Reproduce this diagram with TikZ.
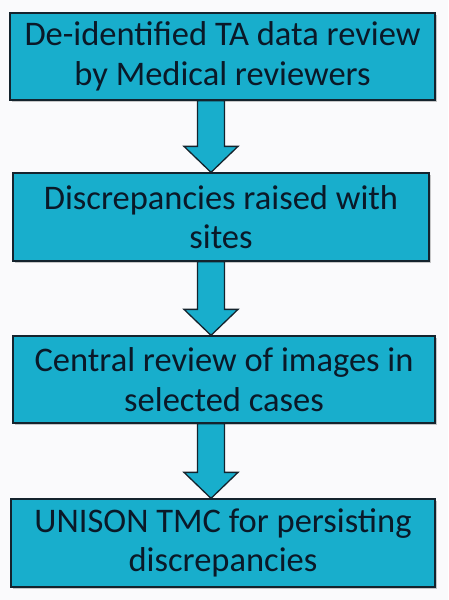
\documentclass[tikz,border=0pt]{standalone}
\usepackage{fontspec}
\setmainfont{Carlito}
\usetikzlibrary{calc,shadows}
\definecolor{boxfill}{RGB}{24,174,204}
\definecolor{edge}{RGB}{20,35,45}
\definecolor{txt}{RGB}{10,25,40}
\definecolor{bg}{RGB}{250,250,252}
\tikzset{
  stepbox/.style={draw=edge, line width=1.3pt, fill=boxfill, inner sep=0pt,
    text=txt, align=center, font=\fontsize{34.5}{39.5}\selectfont,
    drop shadow={shadow xshift=1.5pt, shadow yshift=-2pt, opacity=0.35, fill=black!60}},
  blockarrow/.style={draw=edge, line width=1.3pt, fill=boxfill, line join=miter}
}
\newcommand{\blockarr}[2]{%
  \draw[blockarrow]
    ($(#1.south -| A)+(-13.5,0)$) --
    ($(#2.north -| A)+(-13.5,-26)$) --
    ($(#2.north -| A)+(-27,-26)$) --
    (#2.north -| A) --
    ($(#2.north -| A)+(27,-26)$) --
    ($(#2.north -| A)+(13.5,-26)$) --
    ($(#1.south -| A)+(13.5,0)$) -- cycle;}
\begin{document}
\begin{tikzpicture}[x=1pt,y=-1pt]
\fill[bg] (0,0) rectangle (448,600);
\useasboundingbox (0,0) rectangle (448,600);
\coordinate (A) at (211,0);
\node[stepbox, minimum width=425pt, minimum height=87pt] (b1) at (222.5,56.5)
  {De-identified TA data review\\by Medical reviewers};
\node[stepbox, minimum width=416pt, minimum height=88pt] (b2) at (221,217)
  {Discrepancies raised with\\sites};
\node[stepbox, minimum width=422pt, minimum height=87pt] (b3) at (224,379.5)
  {Central review of images in\\selected cases};
\node[stepbox, minimum width=424pt, minimum height=88pt] (b4) at (223,543)
  {UNISON TMC for persisting\\discrepancies};
\blockarr{b1}{b2}
\blockarr{b2}{b3}
\blockarr{b3}{b4}
\end{tikzpicture}
\end{document}
